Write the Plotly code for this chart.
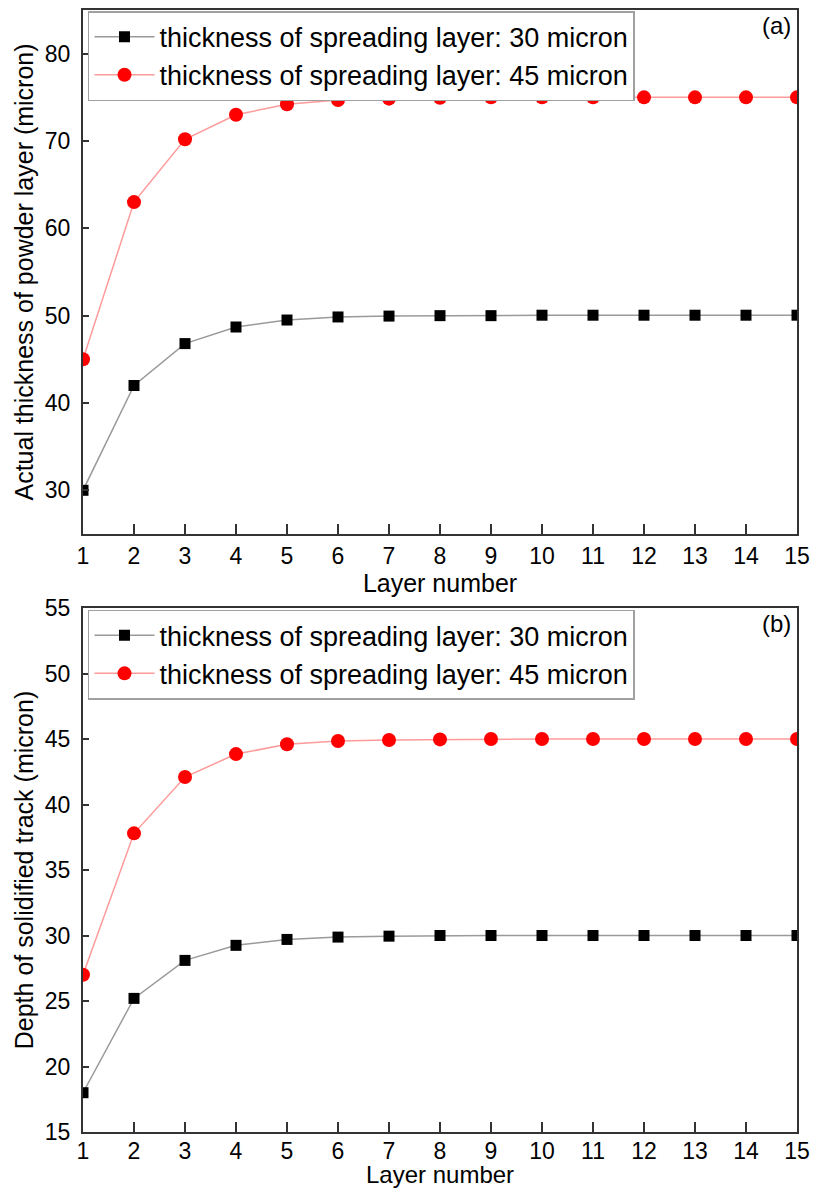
import plotly.graph_objects as go
from plotly.subplots import make_subplots

layers = list(range(1, 16))
x_ticks = list(range(1, 16))

# panel (a): actual thickness of powder layer (micron)
a_30 = [30, 42, 46.8, 48.7, 49.5, 49.85, 49.95, 50, 50, 50.05, 50.05, 50.05, 50.05, 50.05, 50.05]
a_45 = [45, 63, 70.2, 73.0, 74.2, 74.7, 74.85, 74.95, 75, 75, 75, 75, 75, 75, 75]

# panel (b): depth of solidified track (micron)
b_30 = [18, 25.2, 28.1, 29.25, 29.7, 29.88, 29.95, 30, 30, 30, 30, 30, 30, 30, 30]
b_45 = [27, 37.8, 42.1, 43.85, 44.6, 44.85, 44.93, 44.97, 45, 45, 45, 45, 45, 45, 45]

a_yticks = [30, 40, 50, 60, 70, 80]
b_yticks = [15, 20, 25, 30, 35, 40, 45, 50, 55]

name_30 = "thickness of spreading layer: 30 micron"
name_45 = "thickness of spreading layer: 45 micron"
x_title = "Layer number"

FONT = "Liberation Sans, Arial, sans-serif"
AX = "#333333"

fig = make_subplots(rows=2, cols=1, vertical_spacing=0.066)

def add_pair(row, y30, y45, legend):
    fig.add_trace(go.Scatter(
        x=layers, y=y30, name=name_30, mode="lines+markers",
        line=dict(color="#9a9a9a", width=1.5),
        marker=dict(symbol="square", size=11, color="black"),
        legend=legend), row=row, col=1)
    fig.add_trace(go.Scatter(
        x=layers, y=y45, name=name_45, mode="lines+markers",
        line=dict(color="#ff9a9a", width=1.5),
        marker=dict(symbol="circle", size=14, color="#ff0000"),
        legend=legend), row=row, col=1)

add_pair(1, a_30, a_45, "legend")
add_pair(2, b_30, b_45, "legend2")

xaxis_common = dict(
    range=[1, 15], tickvals=x_ticks, ticks="inside", ticklen=10, tickwidth=1.5,
    tickcolor=AX, showline=True, linecolor=AX, linewidth=2, mirror=True,
    showgrid=False, zeroline=False, automargin=False,
    tickfont=dict(size=23, color="black", family=FONT),
)
yaxis_common = dict(
    ticks="inside", ticklen=6, tickwidth=1.5, tickcolor=AX, showline=True,
    linecolor=AX, linewidth=2, mirror=True, showgrid=False, zeroline=False,
    automargin=False, tickfont=dict(size=23, color="black", family=FONT),
    ticklabelstandoff=6,
)

fig.update_xaxes(**xaxis_common)
fig.update_xaxes(row=1, col=1,
                 title=dict(text=x_title, font=dict(size=25, color="black", family=FONT), standoff=0))
fig.update_xaxes(row=2, col=1, ticklabelstandoff=-3)
fig.update_yaxes(**yaxis_common)
fig.update_yaxes(range=[25, 85], tickvals=a_yticks, row=1, col=1,
                 title=dict(text="Actual thickness of powder layer (micron)",
                            font=dict(size=25, color="black", family=FONT), standoff=4))
fig.update_yaxes(range=[15, 55], tickvals=b_yticks, row=2, col=1,
                 title=dict(text="Depth of solidified track (micron)",
                            font=dict(size=25, color="black", family=FONT), standoff=4))

fig.update_layout(yaxis=dict(domain=[0.533, 1.0]), yaxis2=dict(domain=[0.0, 0.467]))

# bottom x-axis title placed just below the tick labels (axis titles are clamped to the margin)
fig.add_annotation(text=x_title, xref="x2 domain", yref="y2 domain", x=0.5, y=-0.082,
                   xanchor="center", yanchor="middle", showarrow=False,
                   font=dict(size=24, color="black", family=FONT))

legend_common = dict(
    x=0.007, xanchor="left", yanchor="top", bgcolor="white",
    bordercolor="#a0a0a0", borderwidth=1.5, itemwidth=60,
    font=dict(size=27, color="black", family=FONT), tracegroupgap=0,
)
fig.update_layout(
    legend=dict(y=0.999, **legend_common),
    legend2=dict(y=0.4655, **legend_common),
)

fig.add_annotation(text="(a)", xref="x domain", yref="y domain", x=0.995, y=1.0,
                   xanchor="right", yanchor="top", showarrow=False,
                   font=dict(size=24, color="black", family=FONT))
fig.add_annotation(text="(b)", xref="x2 domain", yref="y2 domain", x=0.995, y=1.0,
                   xanchor="right", yanchor="top", showarrow=False,
                   font=dict(size=24, color="black", family=FONT))

fig.update_layout(
    template="none",
    width=824, height=1189, margin=dict(l=83, r=27, t=10, b=57, autoexpand=False),
    paper_bgcolor="white", plot_bgcolor="white", showlegend=True,
    font=dict(family=FONT, color="black"),
)

fig.write_html("out.html")
